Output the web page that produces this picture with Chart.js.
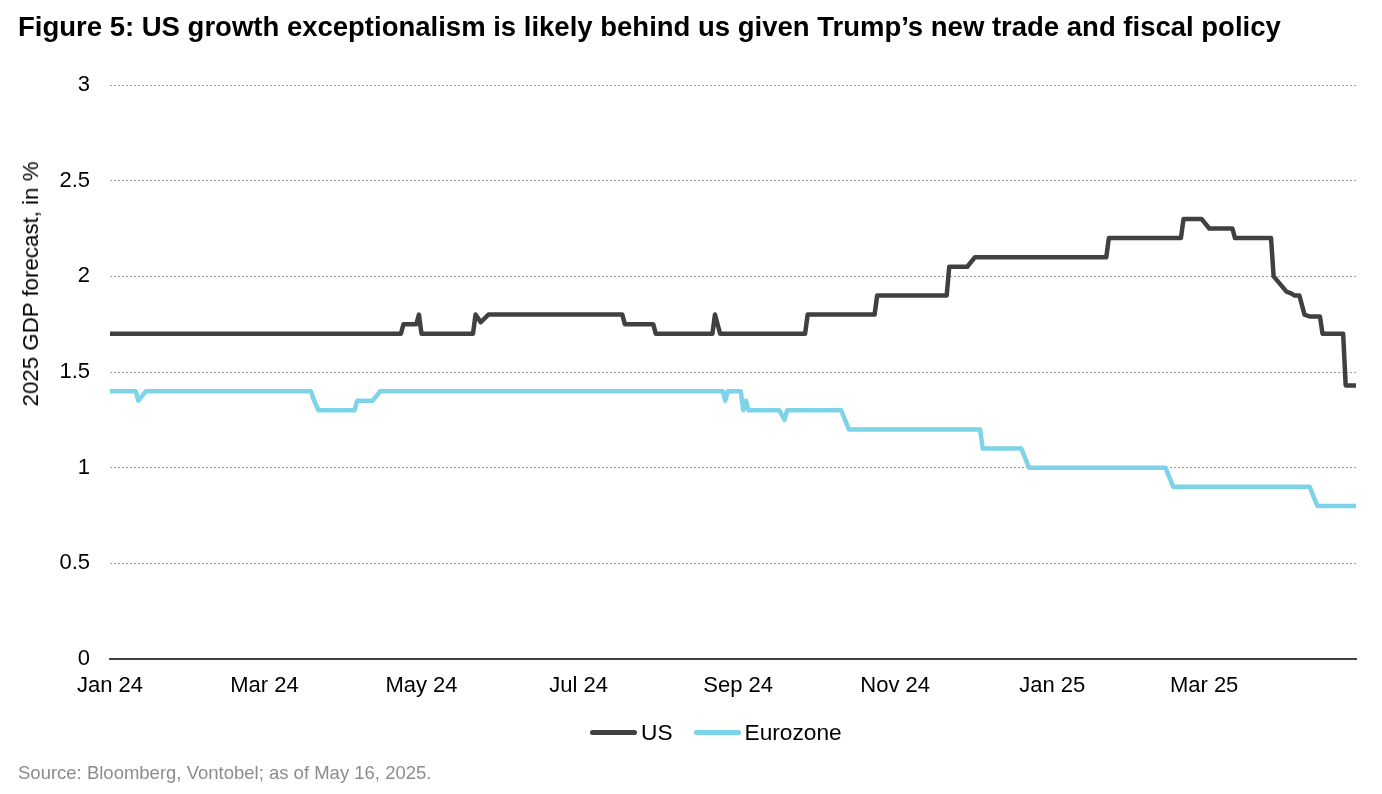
<!DOCTYPE html>
<html>
<head>
<meta charset="utf-8">
<title>Figure 5</title>
<script src="https://cdn.jsdelivr.net/npm/chart.js@4.4.1/dist/chart.umd.min.js"></script>
<style>
    html, body { margin: 0; padding: 0; background: #fff; }
    body { width: 1382px; height: 794px; position: relative; overflow: hidden; font-family: "Liberation Sans", Arial, sans-serif; }
    #wrap { position: absolute; left: 0; top: 0; width: 1382px; height: 794px; }
    .title { position: absolute; left: 18px; top: 11px; font-size: 27.5px; font-weight: bold; color: #000; white-space: nowrap; }
    .ytitle { position: absolute; left: 31px; top: 284px; font-size: 22.3px; color: #000; white-space: nowrap;
              transform: translate(-50%, -50%) rotate(-90deg); }
    .legend { position: absolute; left: 590px; top: 719px; display: flex; align-items: center; font-size: 22.7px; color: #000; }
    .legend .item { display: flex; align-items: center; margin-right: 21px; }
    .legend .swatch { width: 47px; height: 5px; border-radius: 3px; margin-right: 4px; }
    .source { position: absolute; left: 18px; top: 762px; font-size: 18.5px; color: #8c8c8c; white-space: nowrap; }
</style>
</head>
<body>
<div id="wrap"><canvas id="gdpChart" width="1382" height="794"></canvas></div>
<div class="title">Figure 5: US growth exceptionalism is likely behind us given Trump’s new trade and fiscal policy</div>
<div class="ytitle">2025 GDP forecast, in %</div>
<div class="legend" id="legend"></div>
<div class="source">Source: Bloomberg, Vontobel; as of May 16, 2025.</div>

<script>
// x = days since 1 Jan 2024
const tickDays = [0, 60, 121, 182, 244, 305, 366, 425];
const tickLabels = ['Jan 24', 'Mar 24', 'May 24', 'Jul 24', 'Sep 24', 'Nov 24', 'Jan 25', 'Mar 25'];

// US 2025 GDP consensus (change points)
const usDays   = [0, 113, 114, 119, 120, 121, 141, 142, 144, 147, 199, 200, 211, 212, 234, 235, 237, 270, 271, 297, 298,
                  325, 326, 333, 336, 387, 388, 416, 417, 424, 427, 436, 437, 451, 452, 457, 459, 460, 462, 464, 466, 470, 471, 479, 480, 484];
const usValues = [1.7, 1.7, 1.75, 1.75, 1.8, 1.7, 1.7, 1.8, 1.76, 1.8, 1.8, 1.75, 1.75, 1.7, 1.7, 1.8, 1.7, 1.7, 1.8, 1.8, 1.9,
                  1.9, 2.05, 2.05, 2.1, 2.1, 2.2, 2.2, 2.3, 2.3, 2.25, 2.25, 2.2, 2.2, 2.0, 1.92, 1.91, 1.9, 1.9, 1.8, 1.79, 1.79, 1.7, 1.7, 1.43, 1.43];

// Eurozone 2025 GDP consensus (change points)
const ezDays   = [0, 10, 11, 14, 78, 79, 81, 95, 96, 102, 105, 238, 239, 240, 245, 246, 247, 248, 260, 262, 263,
                  284, 287, 338, 339, 354, 357, 410, 413, 466, 469, 484];
const ezValues = [1.4, 1.4, 1.35, 1.4, 1.4, 1.36, 1.3, 1.3, 1.35, 1.35, 1.4, 1.4, 1.35, 1.4, 1.4, 1.3, 1.35, 1.3, 1.3, 1.25, 1.3,
                  1.3, 1.2, 1.2, 1.1, 1.1, 1.0, 1.0, 0.9, 0.9, 0.8, 0.8];

const seriesNames = ['US', 'Eurozone'];
const seriesColors = ['#404040', '#7dd3e7'];

const FONT = '"Liberation Sans", Arial, sans-serif';

const toPoints = (days, vals) => days.map((d, i) => ({ x: d, y: vals[i] }));

const datasets = [toPoints(usDays, usValues), toPoints(ezDays, ezValues)].map((pts, i) => ({
    label: seriesNames[i],
    data: pts,
    borderColor: seriesColors[i],
    backgroundColor: seriesColors[i],
    borderWidth: 4.5,
    pointRadius: 0,
    tension: 0,
    borderJoinStyle: 'round',
    borderCapStyle: 'round',
}));

new Chart(document.getElementById('gdpChart'), {
    type: 'line',
    data: { datasets },
    options: {
        responsive: false,
        animation: false,
        events: [],
        layout: { padding: { top: 85, right: 26, bottom: 95, left: 0 } },
        plugins: { legend: { display: false }, tooltip: { enabled: false } },
        scales: {
            x: {
                type: 'linear',
                min: 0,
                max: 484,
                afterBuildTicks: axis => { axis.ticks = tickDays.map(v => ({ value: v })); },
                afterFit: axis => { axis.height = 40; },
                ticks: {
                    autoSkip: false,
                    maxRotation: 0,
                    padding: 14,
                    color: '#000',
                    font: { family: FONT, size: 22 },
                    callback: v => tickLabels[tickDays.indexOf(v)] || ''
                },
                grid: { display: false, drawTicks: false },
                border: { display: true, color: '#404040', width: 2 }
            },
            y: {
                min: 0,
                max: 3,
                afterFit: axis => { axis.width = 110; },
                ticks: {
                    stepSize: 0.5,
                    padding: 20,
                    color: '#000',
                    font: { family: FONT, size: 22 },
                    callback: v => String(+v)
                },
                grid: {
                    drawTicks: false,
                    color: ctx => ctx.tick && ctx.tick.value === 0 ? 'rgba(0,0,0,0)' : '#9a9a9a',
                    lineWidth: 1
                },
                border: { display: false, dash: [2, 2] }
            }
        }
    }
});

// legend, built from the same series names / colours
document.getElementById('legend').innerHTML = seriesNames.map((name, i) => `
    <div class="item"><span class="swatch" style="background:${seriesColors[i]}"></span><span>${name}</span></div>
`).join('');
</script>
</body>
</html>
